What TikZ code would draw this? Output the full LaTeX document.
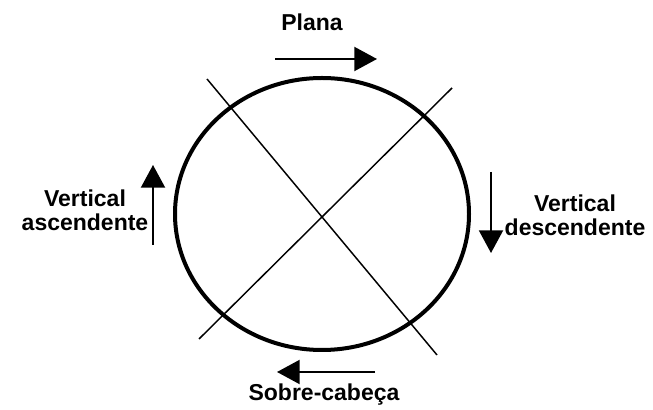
\documentclass[tikz,border=0pt]{standalone}
\usepackage{fontspec}
\setmainfont{Liberation Sans}
\usetikzlibrary{arrows.meta}
\tikzset{
  lbl/.style={font=\bfseries\fontsize{17.25}{18}\selectfont, inner sep=0pt, align=center},
  flecha/.style={line width=1.5pt, -{Triangle[length=17pt,width=18pt]}},
  diag/.style={line width=1.1pt}
}
\begin{document}
\begin{tikzpicture}[x=0.75pt,y=0.75pt]
  \useasboundingbox (0,0) rectangle (653,410);
  % circulo e diagonais
  \draw[line width=3pt] (322,196) ellipse (147 and 136);
  \coordinate (d1a) at (207,331);
  \coordinate (d1b) at (437,55);
  \coordinate (d2a) at (452,322);
  \coordinate (d2b) at (199,71);
  \draw[diag] (d1a) -- (d1b);
  \draw[diag] (d2a) -- (d2b);
  % posicoes
  \node[lbl] (plana) at (312,388) {Plana};
  \node[lbl] (vasc) at (85,200) {Vertical\\ascendente};
  \node[lbl] (vdesc) at (575,195) {Vertical\\descendente};
  \node[lbl] (sobre) at (324,15) {Sobre-cabeça};
  % setas
  \coordinate (p0) at (275,351);
  \coordinate (p1) at (377,351);
  \coordinate (a0) at (153,165);
  \coordinate (a1) at (153,245);
  \coordinate (b0) at (491,238);
  \coordinate (b1) at (491,157);
  \coordinate (s0) at (375,38);
  \coordinate (s1) at (277,38);
  \draw[flecha] (p0) -- (p1);
  \draw[flecha] (a0) -- (a1);
  \draw[flecha] (b0) -- (b1);
  \draw[flecha] (s0) -- (s1);
\end{tikzpicture}
\end{document}
